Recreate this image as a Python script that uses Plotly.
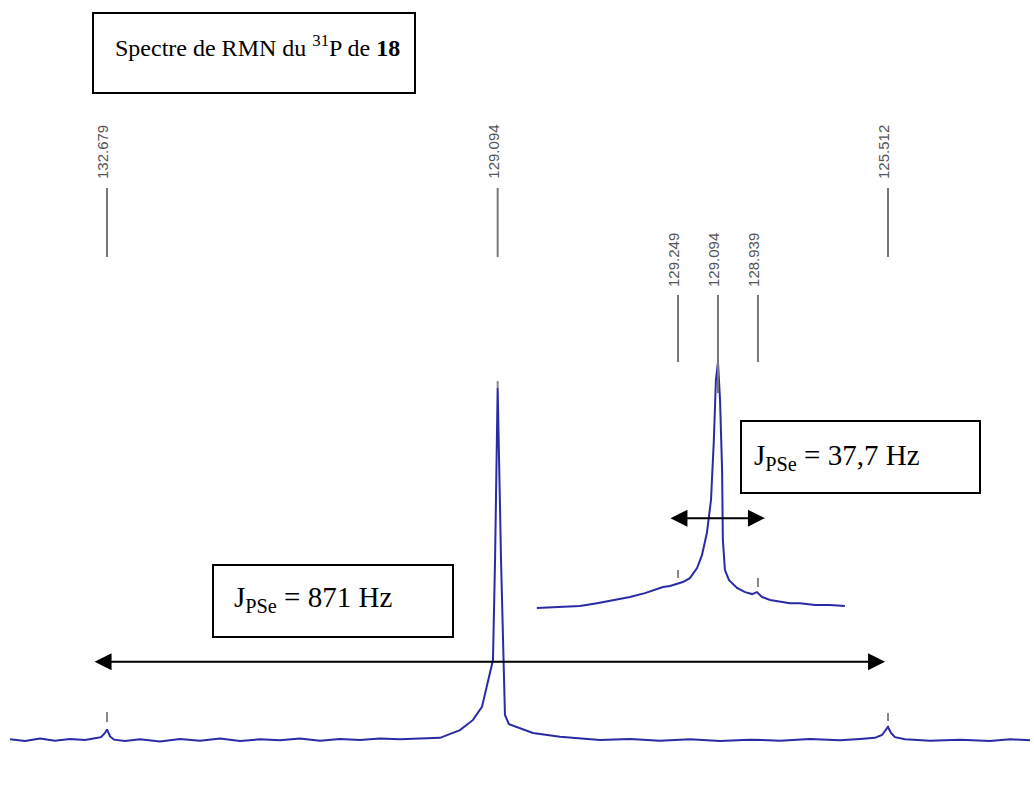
import plotly.graph_objects as go

# ---------------- data (ppm, relative intensity) ----------------
main_ppm = [133.569, 133.431, 133.294, 133.156, 133.019, 132.881, 132.789, 132.734, 132.697,
            132.679, 132.651, 132.615, 132.514, 132.376, 132.193, 132.009, 131.826, 131.642,
            131.458, 131.275, 131.091, 130.908, 130.724, 130.541, 130.357, 130.174, 129.990,
            129.807, 129.623, 129.440, 129.320, 129.238, 129.164, 129.137, 129.118, 129.094,
            129.063, 129.045, 129.027, 128.990, 128.916, 128.770, 128.522, 128.155, 127.879,
            127.604, 127.329, 127.054, 126.778, 126.503, 126.228, 125.952, 125.769, 125.631,
            125.567, 125.530, 125.512, 125.484, 125.448, 125.356, 125.126, 124.851, 124.576,
            124.392, 124.209]
main_int = [0.2, -0.3, 0.4, -0.2, 0.3, 0.0, 0.5, 0.8, 2.0,
            3.0, 1.0, 0.1, -0.3, 0.2, -0.4, 0.3, -0.2, 0.4,
            -0.3, 0.2, -0.1, 0.4, -0.2, 0.3, 0.0, 0.4, 0.2,
            0.5, 0.6, 2.8, 5.7, 9.4, 19.0, 22.7, 51.0, 100.0,
            51.0, 24.7, 7.1, 4.5, 3.7, 2.0, 0.9, 0.0, 0.3,
            -0.2, 0.2, -0.3, 0.1, -0.2, 0.3, -0.1, 0.3, 0.6,
            1.4, 2.8, 3.7, 2.0, 0.8, 0.2, -0.2, 0.1, -0.3,
            0.2, -0.1]

inset_ppm = [129.796, 129.706, 129.629, 129.563, 129.493, 129.435, 129.377, 129.307, 129.280,
             129.253, 129.230, 129.203, 129.175, 129.156, 129.137, 129.121, 129.110, 129.102,
             129.094, 129.086, 129.078, 129.075, 129.067, 129.051, 129.020, 128.989, 128.962,
             128.943, 128.923, 128.892, 128.854, 128.815, 128.776, 128.718, 128.660, 128.602]
inset_int = [-0.4, 0.0, 0.4, 1.6, 2.9, 4.1, 5.7, 8.2, 8.6,
             9.4, 10.2, 11.8, 15.9, 21.2, 30.2, 43.7, 68.0, 92.7,
             100.0, 84.5, 55.9, 27.3, 15.1, 11.0, 7.8, 6.1, 5.3,
             6.1, 4.1, 2.9, 2.4, 1.6, 1.6, 0.8, 0.8, 0.4]

main_labels = [132.679, 129.094, 125.512]
inset_labels = [129.249, 129.094, 128.939]
title_text = "Spectre de RMN du <sup>31</sup>P de <b>18</b>"
j_large = "J<sub>PSe</sub> = 871 Hz"
j_small = "J<sub>PSe</sub> = 37,7 Hz"
j_large_ends = [132.807, 125.539]
j_small_ends = [129.284, 128.912]

# ---------------- figure ----------------
W, H = 1034, 793
def py(p):  # pixel row -> paper y
    return 1 - p / H
def px(p):
    return p / W

line_col = "#2a2aa6"
fig = go.Figure()
fig.add_trace(go.Scatter(x=main_ppm, y=main_int, mode="lines",
                         line=dict(color=line_col, width=2), xaxis="x", yaxis="y",
                         hoverinfo="skip"))
fig.add_trace(go.Scatter(x=inset_ppm, y=inset_int, mode="lines",
                         line=dict(color=line_col, width=2), xaxis="x2", yaxis="y2",
                         hoverinfo="skip"))

shapes = []
annotations = []
label_font = dict(family="Liberation Sans Narrow, Liberation Sans, Arial", size=15, color="#555555")

# main peak labels
for v in main_labels:
    shapes.append(dict(type="line", xref="x", yref="paper", x0=v, x1=v,
                       y0=py(188), y1=py(257), line=dict(color="#777777", width=2)))
    annotations.append(dict(x=v, y=py(152), xref="x", yref="paper", text=f"{v:.3f}",
                            textangle=-90, showarrow=False, font=label_font,
                            xanchor="center", yanchor="middle", xshift=-4))
# inset labels
for i, v in enumerate(inset_labels):
    bottom = 393 if i == 1 else 362
    shapes.append(dict(type="line", xref="x2", yref="paper", x0=v, x1=v,
                       y0=py(295), y1=py(bottom), line=dict(color="#777777", width=2)))
    annotations.append(dict(x=v, y=py(260), xref="x2", yref="paper", text=f"{v:.3f}",
                            textangle=-90, showarrow=False, font=label_font,
                            xanchor="center", yanchor="middle", xshift=-4))

# small peak-pick markers
for v, a, b, ax in [(132.679, 712, 722, "x"), (129.094, 381, 388, "x"), (125.512, 713, 721, "x"),
                    (129.249, 570, 578, "x2"), (128.939, 578, 587, "x2")]:
    shapes.append(dict(type="line", xref=ax, yref="paper", x0=v, x1=v,
                       y0=py(a), y1=py(b), line=dict(color="#888888", width=2)))

# boxes
for x0, x1, y0, y1 in [(93, 415, 13, 93), (213, 453, 565, 637), (741, 980, 421, 493)]:
    shapes.append(dict(type="rect", xref="paper", yref="paper", x0=px(x0), x1=px(x1),
                       y0=py(y0), y1=py(y1), line=dict(color="black", width=2),
                       fillcolor="white"))

serif = dict(family="Liberation Serif, Times New Roman", size=24, color="black")
serif_j = dict(family="Liberation Serif, Times New Roman", size=29, color="black")
annotations.append(dict(x=px(113), y=py(46), xref="paper", yref="paper", text=title_text,
                        showarrow=False, font=serif, xanchor="left", yanchor="middle"))
annotations.append(dict(x=px(232), y=py(599), xref="paper", yref="paper", text=j_large,
                        showarrow=False, font=serif_j, xanchor="left", yanchor="middle"))
annotations.append(dict(x=px(752), y=py(457), xref="paper", yref="paper", text=j_small,
                        showarrow=False, font=serif_j, xanchor="left", yanchor="middle"))

# double arrows
annotations.append(dict(x=j_large_ends[1], y=22.2, ax=j_large_ends[0], ay=22.2,
                        xref="x", yref="y", axref="x", ayref="y", text="", showarrow=True,
                        arrowhead=2, arrowside="end+start", arrowsize=1.7, arrowwidth=2,
                        arrowcolor="black"))
annotations.append(dict(x=j_small_ends[1], y=36.3, ax=j_small_ends[0], ay=36.3,
                        xref="x2", yref="y2", axref="x2", ayref="y2", text="", showarrow=True,
                        arrowhead=2, arrowside="end+start", arrowsize=1.7, arrowwidth=2,
                        arrowcolor="black"))

ax_common = dict(visible=False, showgrid=False, zeroline=False, fixedrange=True)
fig.update_layout(
    width=W, height=H, margin=dict(l=0, r=0, t=0, b=0),
    paper_bgcolor="white", plot_bgcolor="white", showlegend=False,
    xaxis=dict(range=[133.661, 124.172], domain=[0, 1], **ax_common),
    yaxis=dict(range=[-15.06, 210.2], domain=[0, 1], **ax_common),
    xaxis2=dict(range=[131.877, 127.869], overlaying="x", anchor="y2", **ax_common),
    yaxis2=dict(range=[-75.9, 247.8], overlaying="y", anchor="x2", **ax_common),
    shapes=shapes, annotations=annotations,
)
fig.write_html("out.html", config={"displayModeBar": False},
               post_script="document.body.style.margin='0';")
